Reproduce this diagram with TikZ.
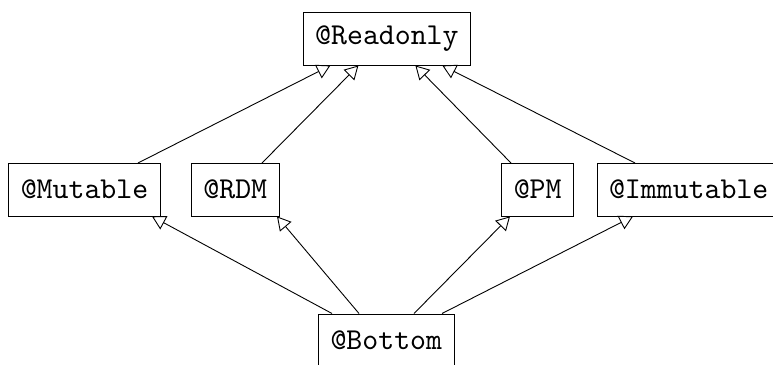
\documentclass[tikz,border=0pt]{standalone}
\usepackage{fontspec}
\usetikzlibrary{arrows.meta}
\newfontfamily\qualfont{lmmono10-regular.otf}
\begin{document}
\begin{tikzpicture}[x=1pt,y=1pt,
  qual/.style={draw, line width=0.9pt, inner xsep=12pt, inner ysep=0pt,
    minimum height=52.5pt, font=\qualfont\fontsize{30.35}{36}\selectfont},
  sub/.style={line width=0.9pt, -{Triangle[open, length=13.5pt, width=15pt, line width=0.9pt]}}]
\useasboundingbox (0,0) rectangle (773,-364);
% qualifier nodes
\node[qual] (ro)  at (386.9,-38.8)  {@Readonly};
\node[qual] (mut) at (84.5,-189.7)  {@Mutable};
\node[qual] (rdm) at (235.3,-189.7) {@RDM};
\node[qual] (pm)  at (537.7,-189.7) {@PM};
\node[qual] (imm) at (688.7,-189.7) {@Immutable};
\node[qual] (bot) at (386.3,-340.2) {@Bottom};
% subtyping edges towards @Readonly
\draw[sub] ([xshift=53.5pt]mut.north)  -- ([xshift=-56.5pt]ro.south);
\draw[sub] ([xshift=26.7pt]rdm.north)  -- ([xshift=-28.5pt]ro.south);
\draw[sub] ([xshift=-26.7pt]pm.north)  -- ([xshift=28.5pt]ro.south);
\draw[sub] ([xshift=-53.7pt]imm.north) -- ([xshift=55.5pt]ro.south);
% subtyping edges from @Bottom
\draw[sub] ([xshift=-54.3pt]bot.north) -- ([xshift=67.5pt]mut.south);
\draw[sub] ([xshift=-27.3pt]bot.north) -- ([xshift=41.7pt]rdm.south);
\draw[sub] ([xshift=27.7pt]bot.north)  -- ([xshift=-27.7pt]pm.south);
\draw[sub] ([xshift=55.7pt]bot.north)  -- ([xshift=-55.7pt]imm.south);
\end{tikzpicture}
\end{document}
